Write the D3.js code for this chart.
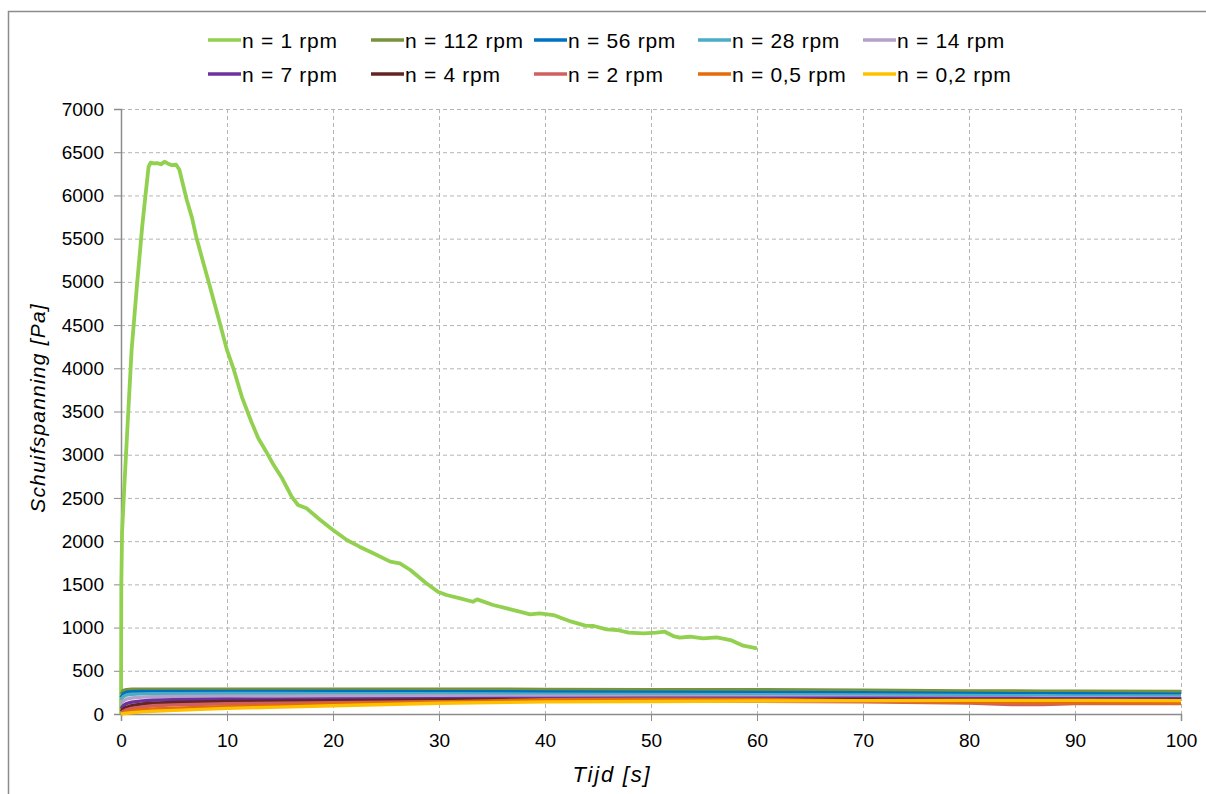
<!DOCTYPE html>
<html>
<head>
<meta charset="utf-8">
<script src="https://cdn.jsdelivr.net/npm/d3@7"></script>
<style>
  html, body { margin: 0; padding: 0; background: #fff; }
  svg { display: block; font-family: "Liberation Sans", Arial, sans-serif; }
</style>
</head>
<body>
<svg id="chart" width="1206" height="794"></svg>
<script>
// ---------- DATA ----------
const seriesNames = ["n = 1 rpm", "n = 112 rpm", "n = 56 rpm", "n = 28 rpm", "n = 14 rpm",
                     "n = 7 rpm", "n = 4 rpm", "n = 2 rpm", "n = 0,5 rpm", "n = 0,2 rpm"];
const seriesColors = ["#92D050", "#77933C", "#0070C0", "#4BACC6", "#B3A2C7",
                      "#7030A0", "#632523", "#D06060", "#E46C0A", "#FFC000"];

const xTicks = [0, 10, 20, 30, 40, 50, 60, 70, 80, 90, 100];
const yTicks = [0, 500, 1000, 1500, 2000, 2500, 3000, 3500, 4000, 4500, 5000, 5500, 6000, 6500, 7000];

// n = 1 rpm
const t1 = [0, 0.03, 0.1, 0.3, 0.6, 1.0, 1.5, 2.0, 2.3, 2.6, 2.8, 3.1, 3.4, 3.8, 4.1, 4.4, 4.8, 5.2, 5.5, 5.8,
            6.2, 6.7, 7.1, 7.7, 8.4, 9.2, 10.0, 10.6, 11.4, 12.3, 12.95, 13.7, 14.4, 15.2, 16.1, 16.7, 17.5,
            18.8, 20, 21.3, 22.5, 23.8, 25.4, 26.3, 27.3, 28.8, 29.9, 30.7, 32, 33.2, 33.6, 35.1, 36.4, 37.6,
            38.6, 39.5, 40.8, 41.6, 42.5, 43.8, 44.6, 45.8, 46.8, 47.9, 49.3, 50.5, 51.3, 52.1, 52.7, 53.7,
            54.9, 56.2, 57.5, 58.7, 60];
const v1 = [0, 1500, 2100, 2600, 3300, 4210, 4950, 5640, 5990, 6330, 6380, 6370, 6375, 6360, 6390, 6370, 6350,
            6355, 6300, 6150, 5950, 5740, 5520, 5250, 4940, 4580, 4210, 4000, 3670, 3380, 3190, 3035, 2880,
            2727, 2514, 2418, 2380, 2245, 2129, 2013, 1936, 1859, 1763, 1743, 1666, 1512, 1415, 1377, 1338,
            1299, 1326, 1261, 1222, 1184, 1153, 1165, 1145, 1107, 1068, 1022, 1018, 980, 972, 941, 933, 941,
            952, 902, 883, 894, 876, 887, 856, 790, 760];

// other speeds share one time base
const tBand = [0, 0.2, 0.5, 1, 2, 3, 5, 10, 15, 20, 30, 40, 50, 60, 70, 80, 84, 87, 90, 100];
const v112 = [230, 270, 282, 286, 288, 288, 288, 288, 288, 288, 287, 285, 282, 280, 276, 268, 266, 265, 264, 260];
const v56  = [190, 235, 252, 258, 262, 262, 262, 262, 262, 260, 258, 256, 253, 250, 246, 238, 236, 235, 234, 230];
const v28  = [160, 200, 220, 228, 233, 235, 236, 237, 237, 236, 234, 230, 227, 224, 220, 214, 212, 211, 210, 208];
const v14  = [110, 150, 172, 185, 195, 200, 204, 206, 207, 208, 208, 205, 203, 200, 196, 190, 188, 187, 186, 184];
const v7   = [60, 95, 120, 138, 152, 160, 166, 170, 172, 174, 176, 180, 182, 183, 182, 180, 179, 178, 178, 176];
const v4   = [30, 55, 78, 98, 115, 125, 135, 145, 150, 155, 162, 165, 166, 166, 165, 163, 162, 162, 161, 160];
const v2   = [15, 30, 48, 65, 83, 95, 105, 118, 126, 132, 142, 148, 150, 148, 140, 128, 110, 108, 122, 120];
const v05  = [5, 12, 22, 35, 50, 58, 68, 85, 100, 115, 140, 165, 170, 168, 150, 135, 132, 130, 130, 128];
const v02  = [0, 4, 8, 14, 25, 32, 42, 65, 80, 95, 125, 140, 145, 150, 155, 158, 158, 158, 158, 155];

// ---------- BUILD ----------
const series = [
  { t: t1, v: v1 },
  { t: tBand, v: v112 }, { t: tBand, v: v56 }, { t: tBand, v: v28 }, { t: tBand, v: v14 },
  { t: tBand, v: v7 }, { t: tBand, v: v4 }, { t: tBand, v: v2 }, { t: tBand, v: v05 }, { t: tBand, v: v02 }
].map((s, i) => ({ name: seriesNames[i], color: seriesColors[i], pts: s.t.map((t, j) => [t, s.v[j]]) }));

const svg = d3.select("#chart");
const x = d3.scaleLinear().domain([0, 100]).range([121, 1181]);
const y = d3.scaleLinear().domain([0, 7000]).range([714, 109]);

// outer frame
svg.append("path").attr("d", "M8.5,794 L8.5,11.5 L1206,11.5")
  .attr("fill", "none").attr("stroke", "#8c8c8c").attr("stroke-width", 1.5);

// gridlines
const grid = svg.append("g");
grid.selectAll("line.h").data(yTicks.filter(d => d > 0)).join("line")
  .attr("x1", x(0)).attr("x2", x(100)).attr("y1", d => y(d) + 0.5).attr("y2", d => y(d) + 0.5)
  .attr("stroke", "#b4b4b4").attr("stroke-width", 1).attr("stroke-dasharray", "4,3");
grid.selectAll("line.v").data(xTicks.filter(d => d > 0)).join("line")
  .attr("x1", d => x(d) + 0.5).attr("x2", d => x(d) + 0.5).attr("y1", y(7000)).attr("y2", y(0))
  .attr("stroke", "#b4b4b4").attr("stroke-width", 1).attr("stroke-dasharray", "4,3");

// axes
const xAxis = svg.append("g").attr("transform", `translate(0,${y(0)})`)
  .call(d3.axisBottom(x).tickValues(xTicks).tickSize(7).tickPadding(13).tickFormat(d3.format("d")));
const yAxis = svg.append("g").attr("transform", `translate(${x(0)},0)`)
  .call(d3.axisLeft(y).tickValues(yTicks).tickSize(7).tickPadding(10).tickFormat(d3.format("d")));
[xAxis, yAxis].forEach(a => {
  a.select(".domain").attr("stroke", "#8c8c8c").attr("stroke-width", 1.5);
  a.selectAll(".tick line").attr("stroke", "#8c8c8c").attr("stroke-width", 1);
  a.selectAll(".tick text").attr("fill", "#000").style("font-size", "19px")
    .style("font-family", "'Liberation Sans', Arial, sans-serif");
});

// lines
const line = d3.line().x(d => x(d[0])).y(d => y(d[1]));
svg.append("g").selectAll("path").data(series).join("path")
  .attr("d", d => line(d.pts)).attr("fill", "none")
  .attr("stroke", d => d.color).attr("stroke-width", (d, i) => i === 0 ? 3.8 : 3.4)
  .attr("stroke-linejoin", "round").attr("stroke-linecap", "butt");

// axis titles
svg.append("text").attr("x", 612).attr("y", 782).attr("text-anchor", "middle")
  .style("font-size", "22px").style("font-style", "italic").style("letter-spacing", "1.8px")
  .text("Tijd [s]");
svg.append("text").attr("transform", "translate(45,408) rotate(-90)").attr("text-anchor", "middle")
  .style("font-size", "21px").style("font-style", "italic").style("letter-spacing", "1.2px")
  .text("Schuifspanning [Pa]");

// legend
const legX = [208, 371, 534, 698, 863];
const legY = [40, 74];
const leg = svg.append("g").selectAll("g").data(series).join("g")
  .attr("transform", (d, i) => `translate(${legX[i % 5]},${legY[Math.floor(i / 5)]})`);
leg.append("line").attr("x1", 0).attr("x2", 33).attr("y1", 0).attr("y2", 0)
  .attr("stroke", d => d.color).attr("stroke-width", 3.5);
leg.append("text").attr("x", 34).attr("y", 7.5).style("font-size", "21px").style("letter-spacing", "0.7px")
  .text(d => d.name);
</script>
</body>
</html>
